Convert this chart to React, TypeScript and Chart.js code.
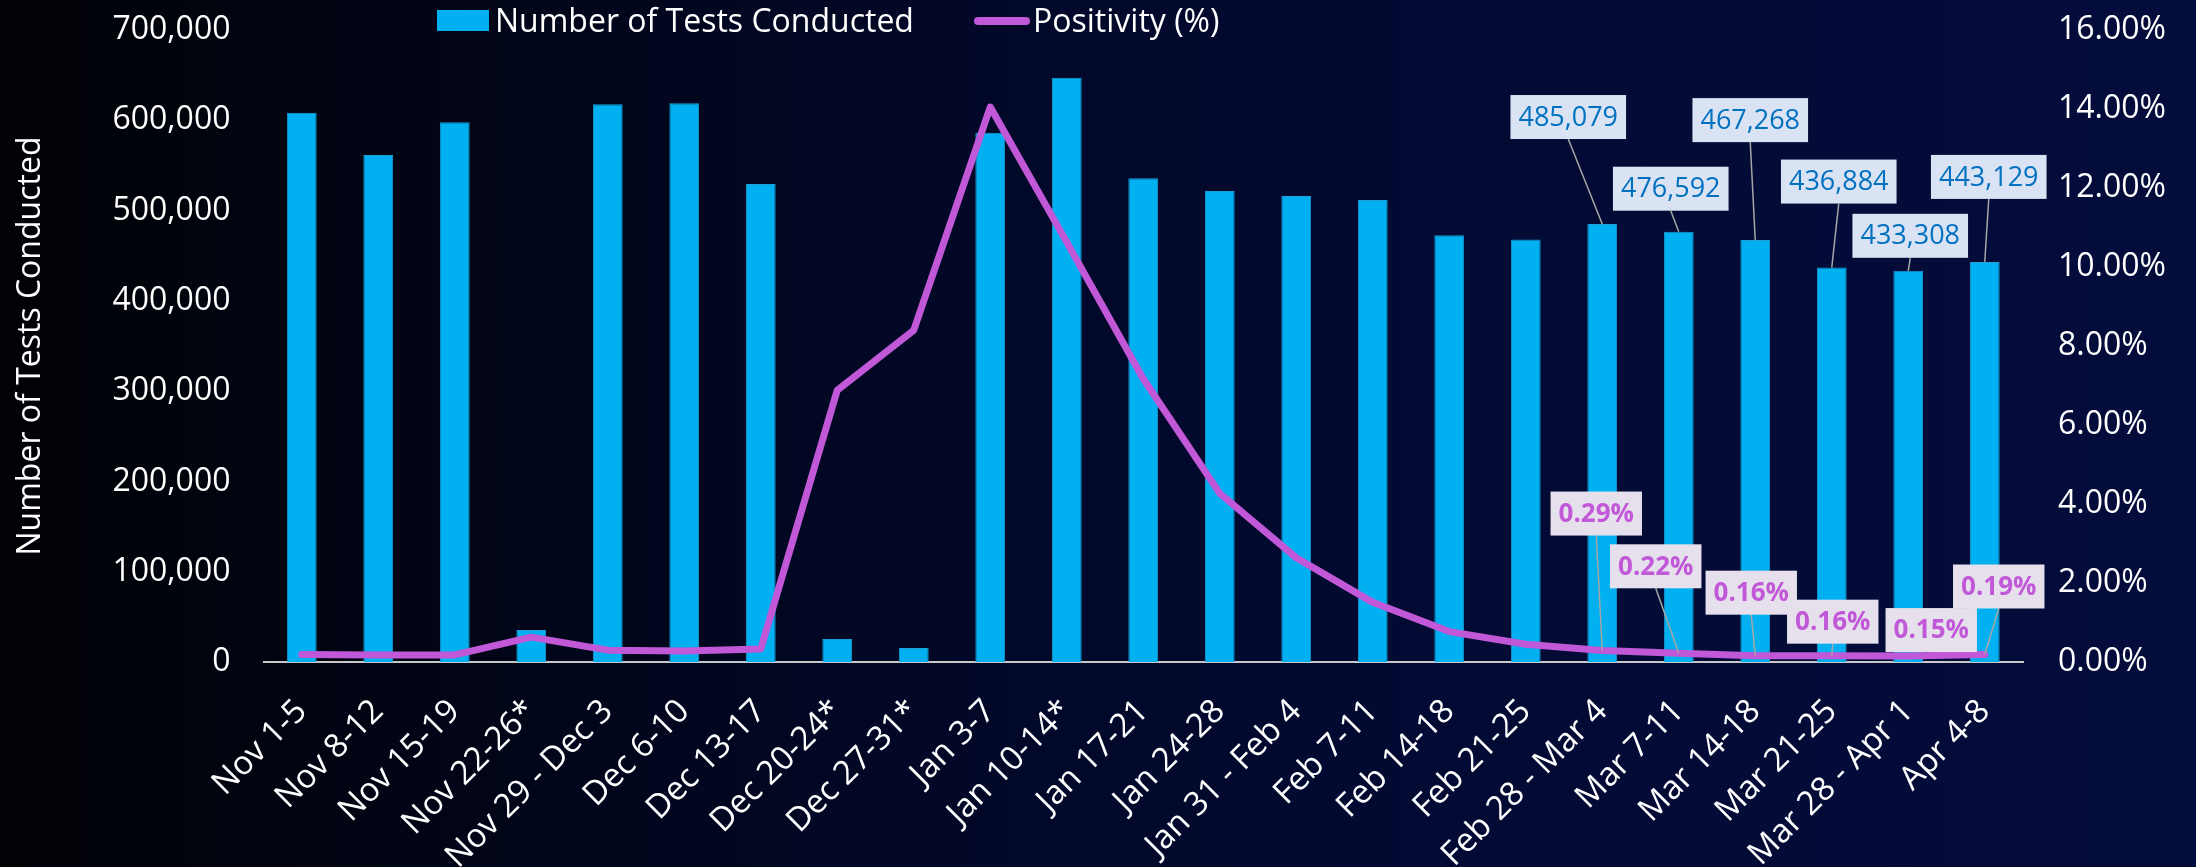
import React, { useEffect, useRef } from "react";
import { Chart, registerables } from "chart.js";

Chart.register(...registerables);

const categories = [
  "Nov 1-5", "Nov 8-12", "Nov 15-19", "Nov 22-26*", "Nov 29 - Dec 3", "Dec 6-10",
  "Dec 13-17", "Dec 20-24*", "Dec 27-31*", "Jan 3-7", "Jan 10-14*", "Jan 17-21",
  "Jan 24-28", "Jan 31 - Feb 4", "Feb 7-11", "Feb 14-18", "Feb 21-25",
  "Feb 28 - Mar 4", "Mar 7-11", "Mar 14-18", "Mar 21-25", "Mar 28 - Apr 1", "Apr 4-8",
];

const testsConducted = [
  608400, 561500, 597700, 35400, 617700, 618800, 529400, 25500, 15500, 586200,
  647200, 535700, 521700, 516100, 511700, 472700, 468000,
  485079, 476592, 467268, 436884, 433308, 443129,
];

const positivity = [
  0.19, 0.18, 0.18, 0.63, 0.30, 0.28, 0.33, 6.88, 8.40, 14.05, 10.63, 7.17,
  4.27, 2.64, 1.51, 0.77, 0.45, 0.29, 0.22, 0.16, 0.16, 0.15, 0.19,
];

const leftTickValues = [0, 100000, 200000, 300000, 400000, 500000, 600000, 700000];
const rightTickValues = [0, 2, 4, 6, 8, 10, 12, 14, 16];

const labeledIndices = [17, 18, 19, 20, 21, 22];

// layout: label box centre offsets (px) relative to the mark
const barLabelOffsets = [[-34, -107], [-8, -43], [-5, -120], [7, -86], [2, -35], [4, -85]];
const pctLabelOffsets = [[-6, -137], [-23, -87], [-4, -63], [1, -34], [23, -26], [14, -68]];

const FONT = "'Open Sans', 'Noto Sans', sans-serif";
const BAR_COLOR = "#00b0f0";
const LINE_COLOR = "#c058d8";

const bgPlugin = {
  id: "bg",
  beforeDraw(chart: any) {
    const { ctx, width, height } = chart;
    const g = ctx.createLinearGradient(0, 0, width, 0);
    g.addColorStop(0, "#010206");
    g.addColorStop(0.35, "#020722");
    g.addColorStop(0.65, "#030a33");
    g.addColorStop(1, "#040c3c");
    ctx.save();
    ctx.fillStyle = g;
    ctx.fillRect(0, 0, width, height);
    ctx.restore();
  },
};

const legendPlugin = {
  id: "customLegend",
  afterDraw(chart: any) {
    const ctx = chart.ctx;
    ctx.save();
    ctx.font = `32px ${FONT}`;
    ctx.fillStyle = BAR_COLOR;
    ctx.fillRect(437, 10, 52, 21);
    ctx.fillStyle = "#ffffff";
    ctx.textBaseline = "alphabetic";
    ctx.textAlign = "left";
    ctx.fillText("Number of Tests Conducted", 495, 32);
    ctx.strokeStyle = LINE_COLOR;
    ctx.lineWidth = 8;
    ctx.lineCap = "round";
    ctx.beginPath();
    ctx.moveTo(978, 21);
    ctx.lineTo(1026, 21);
    ctx.stroke();
    ctx.fillText("Positivity (%)", 1033, 32);
    ctx.restore();
  },
};

function drawBoxLabel(ctx: any, px: number, py: number, off: number[], text: string, font: string, bg: string, color: string, phase: number) {
  ctx.font = font;
  const tw = ctx.measureText(text).width;
  const w = tw + 16;
  const h = 44;
  const cx = px + off[0];
  const cy = py + off[1];
  if (phase === 0) {
    const bottom = cy + h / 2;
    if (py - bottom > 6) {
      ctx.strokeStyle = "#a6a6a6";
      ctx.lineWidth = 1.5;
      ctx.beginPath();
      ctx.moveTo(cx, bottom);
      ctx.lineTo(px, py);
      ctx.stroke();
    }
  } else {
    ctx.fillStyle = bg;
    ctx.fillRect(cx - w / 2, cy - h / 2, w, h);
    ctx.fillStyle = color;
    ctx.textAlign = "center";
    ctx.textBaseline = "middle";
    ctx.fillText(text, cx, cy + 1);
  }
}

const labelPlugin = {
  id: "boxLabels",
  afterDatasetsDraw(chart: any) {
    const ctx = chart.ctx;
    const lineMeta = chart.getDatasetMeta(0);
    const barMeta = chart.getDatasetMeta(1);
    ctx.save();
    for (let phase = 0; phase < 2; phase++) {
      labeledIndices.forEach((idx, k) => {
        const b = barMeta.data[idx];
        drawBoxLabel(ctx, b.x, b.y, barLabelOffsets[k], testsConducted[idx].toLocaleString("en-US"),
          `27px ${FONT}`, "#dae3f3", "#0070c0", phase);
        const p = lineMeta.data[idx];
        drawBoxLabel(ctx, p.x, p.y, pctLabelOffsets[k], positivity[idx].toFixed(2) + "%",
          `bold 26px ${FONT}`, "#e6e0ec", LINE_COLOR, phase);
      });
    }
    ctx.restore();
  },
};

export default function App() {
  const canvasRef = useRef<HTMLCanvasElement | null>(null);

  useEffect(() => {
    document.body.style.margin = "0";
    const canvas = canvasRef.current;
    if (!canvas) return;
    const chart = new Chart(canvas, {
      type: "bar",
      data: {
        labels: categories,
        datasets: [
          {
            type: "line",
            label: "Positivity (%)",
            data: positivity,
            yAxisID: "y1",
            borderColor: LINE_COLOR,
            backgroundColor: LINE_COLOR,
            borderWidth: 7,
            pointRadius: 0,
            tension: 0,
            borderCapStyle: "round",
            borderJoinStyle: "round",
            order: 0,
          } as any,
          {
            type: "bar",
            label: "Number of Tests Conducted",
            data: testsConducted,
            yAxisID: "y",
            backgroundColor: BAR_COLOR,
            borderColor: "#1a9fd6",
            borderWidth: 1,
            barPercentage: 0.39,
            categoryPercentage: 1,
            order: 1,
          } as any,
        ],
      },
      options: {
        responsive: false,
        animation: false,
        layout: { padding: { top: 30, left: 0, right: 0, bottom: 0 } },
        plugins: {
          legend: { display: false },
          tooltip: { enabled: false },
        },
        scales: {
          x: {
            grid: { display: false, drawTicks: false },
            border: { display: true, color: "#c8c8c8", width: 2 },
            ticks: {
              color: "#ffffff",
              font: { family: FONT, size: 33 },
              maxRotation: 45,
              minRotation: 45,
              padding: 30,
              autoSkip: false,
            },
            afterFit: (s: any) => { s.height = 205; },
          },
          y: {
            position: "left",
            min: 0,
            max: 700000,
            grid: { display: false, drawTicks: false },
            border: { display: false },
            afterBuildTicks: (s: any) => { s.ticks = leftTickValues.map((v) => ({ value: v })); },
            ticks: {
              color: "#ffffff",
              font: { family: FONT, size: 32 },
              padding: 33,
              callback: (v: any) => Number(v).toLocaleString("en-US"),
            },
            title: {
              display: true,
              text: "Number of Tests Conducted",
              color: "#ffffff",
              font: { family: FONT, size: 32 },
              padding: { top: 12, bottom: 0 },
            },
            afterFit: (s: any) => { s.width = 263.5; s.paddingTop = 0; s.paddingBottom = 0; },
          },
          y1: {
            position: "right",
            min: 0,
            max: 16,
            grid: { display: false, drawTicks: false },
            border: { display: false },
            afterBuildTicks: (s: any) => { s.ticks = rightTickValues.map((v) => ({ value: v })); },
            ticks: {
              color: "#ffffff",
              font: { family: FONT, size: 32 },
              padding: 35,
              callback: (v: any) => Number(v).toFixed(2) + "%",
            },
            afterFit: (s: any) => { s.width = 173; s.paddingTop = 0; s.paddingBottom = 0; },
          },
        },
      },
      plugins: [bgPlugin, labelPlugin, legendPlugin],
    } as any);
    return () => chart.destroy();
  }, []);

  return (
    <div style={{ width: 2196, height: 867 }}>
      <canvas ref={canvasRef} width={2196} height={867} style={{ display: "block" }} />
    </div>
  );
}
